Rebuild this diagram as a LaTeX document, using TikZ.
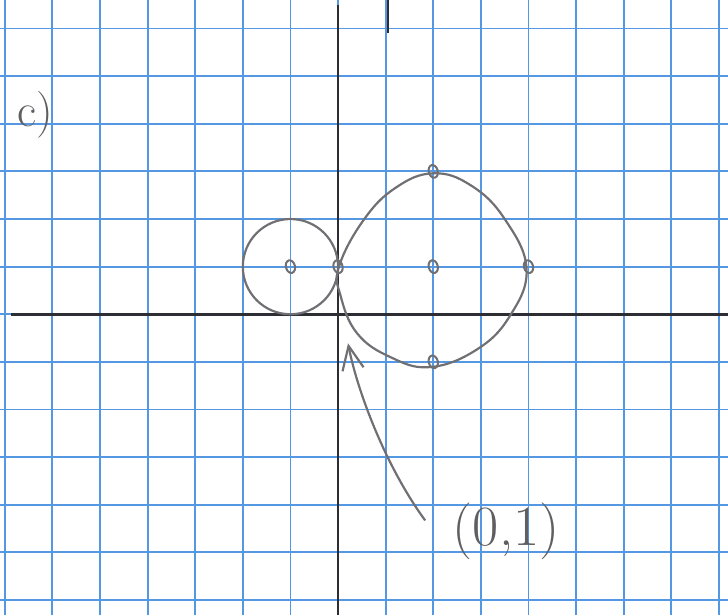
\documentclass[tikz,border=0pt]{standalone}
\usetikzlibrary{arrows.meta,shapes.geometric}
\definecolor{GridBlue}{RGB}{84,152,228}
\definecolor{Pencil}{RGB}{112,112,116}
\definecolor{AxisInk}{RGB}{45,45,52}

\begin{document}
\begin{tikzpicture}[x=1cm,y=1cm,
  pt/.style={draw=Pencil,line width=1.2pt,ellipse,minimum width=1.9mm,minimum height=2.7mm,inner sep=0pt,rotate=15},
  curve/.style={Pencil,line width=1.3pt},
  hand/.style={text=Pencil!85!black,font=\fontsize{34}{40}\selectfont}]
  \useasboundingbox[fill=white] (-7.10,-6.32) rectangle (8.19,6.60);
  \foreach \i in {-7,...,8} \draw[GridBlue,line width=1.1pt] (\i,-6.32)--(\i,6.60);
  \foreach \j in {-6,...,6} \draw[GridBlue,line width=1.1pt] (-7.10,\j)--(8.19,\j);
  \draw[AxisInk,line width=1.5pt] (-6.87,0)--(8.19,0);
  \draw[AxisInk,line width=1.4pt] (0,-6.32)--(0,6.5);
  \draw[AxisInk,line width=1.4pt] (1.05,5.9)--(1.05,6.6);
  \draw[curve] (-1,1) circle (1);
  \draw[curve] plot[smooth cycle,tension=.7] coordinates
    {(0.02,1.0)(0.53,1.97)(1.2,2.65)(2.0,2.96)(2.8,2.7)(3.5,2.0)
     (3.96,0.95)(3.6,-0.05)(2.9,-0.75)(1.93,-1.11)(1.1,-0.9)
     (0.4,-0.4)(0.05,0.4)};
  \node[pt] (cA) at (-1,1) {};
  \node[pt] (tA) at (0,1) {};
  \node[pt] (cB) at (2,1) {};
  \node[pt] (topB) at (2,3) {};
  \node[pt] (botB) at (2,-1) {};
  \node[pt] (rtB) at (4,1) {};
  \node[hand,font=\fontsize{28}{32}\selectfont] (part) at (-6.36,4.19) {c)};
  \node[hand] (lbl) at (3.53,-4.55) {(0,1)};
  \coordinate (tail) at (1.83,-4.33);
  \coordinate (head) at (0.21,-0.61);
  \draw[curve,-{Straight Barb[length=5mm,width=4.5mm]}] (tail)
    .. controls (1.0,-3.2) and (0.4,-1.6) .. (head);
\end{tikzpicture}
\end{document}
